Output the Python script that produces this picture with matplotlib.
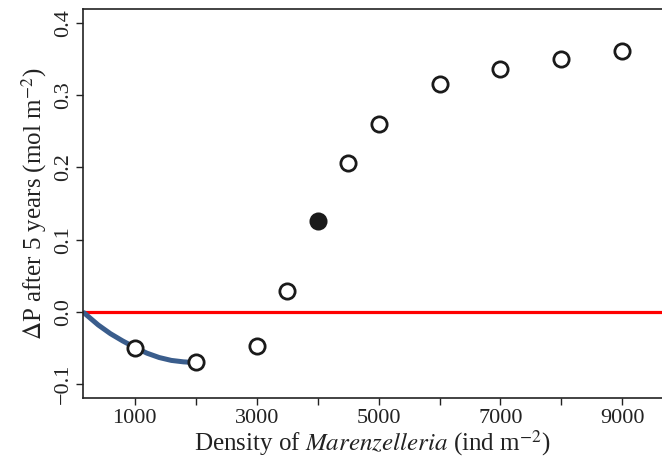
import numpy as np
import matplotlib.pyplot as plt
from matplotlib.ticker import FuncFormatter

plt.rcParams['font.family'] = 'Liberation Serif'
plt.rcParams['mathtext.fontset'] = 'stix'

# open-circle observations
density = [1000, 2000, 3000, 3500, 4500, 5000, 6000, 7000, 8000, 9000]
dP = [-0.050, -0.069, -0.047, 0.029, 0.206, 0.260, 0.315, 0.336, 0.350, 0.361]
# filled point
density_f = [4000]
dP_f = [0.126]
# blue fitted curve
curve_x = [150, 400, 600, 800, 1000, 1200, 1400, 1600, 1800, 2000]
curve_y = [0.000, -0.018, -0.030, -0.040, -0.049, -0.057, -0.063, -0.067, -0.069, -0.070]

fig = plt.figure(figsize=(6.62, 4.58), dpi=100)
ax = fig.add_axes([0.1254, 0.131, 0.8746, 0.849])

ax.axhline(0, color='#ff0000', linewidth=2.3, zorder=1)
ax.plot(curve_x, curve_y, color='#3a5d8c', linewidth=3.6, solid_capstyle='butt', zorder=2)
ax.plot(density, dP, 'o', markersize=11, markerfacecolor='white',
        markeredgecolor='#1a1a1a', markeredgewidth=2, zorder=3)
ax.plot(density_f, dP_f, 'o', markersize=11, markerfacecolor='#1a1a1a',
        markeredgecolor='#1a1a1a', markeredgewidth=2, zorder=3)

ax.set_xlim(150, 9650)
ax.set_ylim(-0.119, 0.419)
ax.set_xticks([1000, 3000, 5000, 7000, 9000])
ax.set_xticks([2000, 4000, 6000, 8000], minor=True)
ax.set_yticks([-0.1, 0.0, 0.1, 0.2, 0.3, 0.4])
ax.yaxis.set_major_formatter(FuncFormatter(lambda v, p: ('%.1f' % v).replace('-', '\u2212')))
ax.tick_params(which='both', direction='out', length=5, width=1, labelsize=16, colors='#222222')
ax.tick_params(axis='x', pad=3)
ax.tick_params(axis='y', pad=2)
for lbl in ax.get_yticklabels():
    lbl.set_rotation(90)
    lbl.set_va('center')
ax.spines['right'].set_visible(False)
for s in ['left', 'bottom', 'top']:
    ax.spines[s].set_linewidth(1.2)
    ax.spines[s].set_color('#222222')

ax.set_xlabel('Density of $\\it{Marenzelleria}$ (ind m$^{-2}$)', fontsize=18, color='#222222', labelpad=0)
ax.set_ylabel('$\\Delta$P after 5 years (mol m$^{-2}$)', fontsize=18, color='#222222', labelpad=4)

fig.savefig('out.png', dpi=100)
